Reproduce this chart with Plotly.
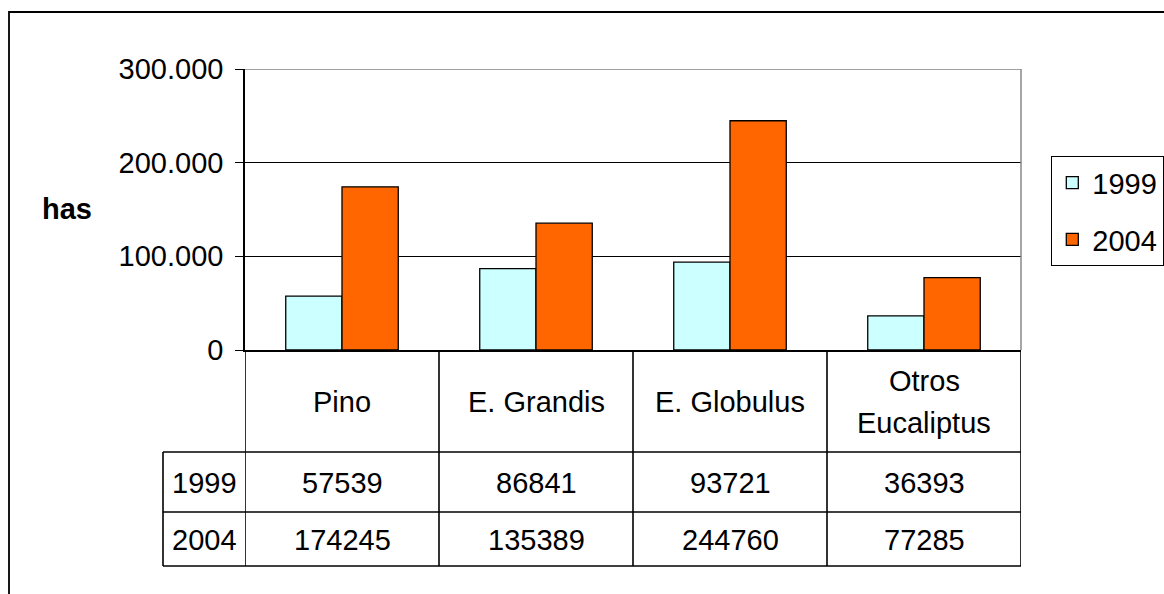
import plotly.graph_objects as go

# Planted area (hectares) by species, 1999 vs 2004
categories = ["Pino", "E. Grandis", "E. Globulus", "Otros Eucaliptus"]
category_labels = ["Pino", "E. Grandis", "E. Globulus", "Otros<br>Eucaliptus"]
series_names = ["1999", "2004"]
values_1999 = [57539, 86841, 93721, 36393]
values_2004 = [174245, 135389, 244760, 77285]
y_ticks = [0, 100000, 200000, 300000]
y_tick_labels = ["0", "100.000", "200.000", "300.000"]
y_title = "has"

series_values = [values_1999, values_2004]
series_colors = ["#CCFFFF", "#FF6600"]

W, H = 1164, 594
FONT = "Liberation Sans, Arial, sans-serif"
FS = 29
LINE_STEP = 43  # pixel distance between lines of a wrapped header


def px(x):
    return x / W


def py(y):
    return 1 - y / H


# layout geometry (pixels)
PLOT_L, PLOT_R, PLOT_T, PLOT_B = 245, 1021, 69, 350
HDR_B, ROW1_B, ROW2_B = 452, 512, 566
LABEL_L = 163

fig = go.Figure()
for name, vals, col in zip(series_names, series_values, series_colors):
    fig.add_trace(go.Bar(
        x=categories, y=vals, name=name, legendgroup=name,
        marker=dict(color=col, line=dict(color="black", width=1.3)),
    ))

shapes = []
line_k = dict(color="black", width=1.6)
# outer chart frame
shapes.append(dict(type="rect", xref="paper", yref="paper",
                   x0=px(9), x1=px(1200), y0=py(640), y1=py(12),
                   line=dict(color="black", width=1.8), layer="below"))
# plot-area border (grey) on top and right
shapes.append(dict(type="line", xref="paper", yref="y", x0=px(PLOT_L), x1=px(PLOT_R),
                   y0=y_ticks[-1], y1=y_ticks[-1], line=dict(color="#808080", width=1.4)))
shapes.append(dict(type="line", xref="paper", yref="paper", x0=px(PLOT_R), x1=px(PLOT_R),
                   y0=py(PLOT_B), y1=py(PLOT_T), line=dict(color="#808080", width=1.4)))

# data table grid
n = len(categories)
for i in range(n + 1):
    shapes.append(dict(type="line", xref="x", yref="paper", x0=i - 0.5, x1=i - 0.5,
                       y0=py(ROW2_B), y1=py(PLOT_B), line=line_k))
for yy in (HDR_B, ROW1_B, ROW2_B):
    shapes.append(dict(type="line", xref="paper", yref="paper", x0=px(LABEL_L), x1=px(PLOT_R),
                       y0=py(yy), y1=py(yy), line=line_k))
shapes.append(dict(type="line", xref="paper", yref="paper", x0=px(LABEL_L), x1=px(LABEL_L),
                   y0=py(ROW2_B), y1=py(HDR_B), line=line_k))

annotations = []
txt = dict(family=FONT, size=FS, color="black")
center = dict(xanchor="center", yanchor="middle", showarrow=False, font=txt)

# header row: each line of a wrapped label placed separately for wider leading
hdr_mid = (PLOT_B + HDR_B) / 2 + 1
for i, lab in enumerate(category_labels):
    lines = lab.split("<br>")
    first = hdr_mid - LINE_STEP * (len(lines) - 1) / 2
    for k, ln in enumerate(lines):
        annotations.append(dict(x=i, y=py(first + k * LINE_STEP), xref="x", yref="paper",
                                text=ln, **center))

row_centers = [(HDR_B + ROW1_B) / 2 + 1, (ROW1_B + ROW2_B) / 2 + 1]
for name, vals, yc in zip(series_names, series_values, row_centers):
    annotations.append(dict(x=px((LABEL_L + PLOT_L) / 2), y=py(yc), xref="paper", yref="paper",
                            text=name, **center))
    for i, v in enumerate(vals):
        annotations.append(dict(x=i, y=py(yc), xref="x", yref="paper",
                                text=str(v), **center))
annotations.append(dict(x=px(67), y=py(209), xref="paper", yref="paper",
                        text="<b>" + y_title + "</b>", **center))

fig.update_layout(
    width=W, height=H, autosize=False,
    margin=dict(l=0, r=0, t=0, b=0, autoexpand=False),
    paper_bgcolor="white", plot_bgcolor="white",
    font=txt,
    barmode="group", bargap=0.42, bargroupgap=0,
    showlegend=True,
    legend=dict(x=px(1051), y=py(156), xanchor="left", yanchor="top",
                bordercolor="black", borderwidth=1.3, bgcolor="white",
                font=txt, tracegroupgap=16, traceorder="grouped"),
    xaxis=dict(domain=[px(PLOT_L), px(PLOT_R)], range=[-0.5, n - 0.5],
               showticklabels=False, ticks="", showgrid=False, zeroline=False,
               showline=True, linecolor="black", linewidth=1.6),
    yaxis=dict(domain=[py(PLOT_B), py(PLOT_T)], range=[y_ticks[0], y_ticks[-1]],
               tickvals=y_ticks, ticktext=y_tick_labels,
               ticks="outside", ticklen=8, tickcolor="black", tickwidth=1.4,
               ticklabelstandoff=6,
               showgrid=True, gridcolor="black", gridwidth=1.3, zeroline=False,
               showline=True, linecolor="black", linewidth=1.6),
    shapes=shapes, annotations=annotations,
)

fig.write_html("out.html")
